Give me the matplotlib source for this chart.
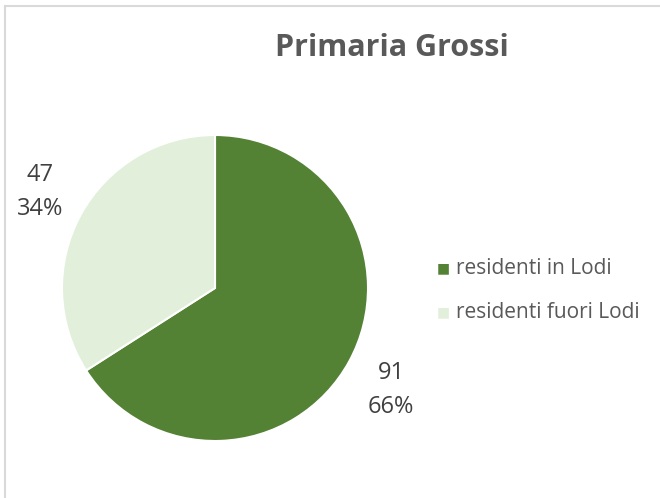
import matplotlib.pyplot as plt
from matplotlib.lines import Line2D

plt.rcParams['font.family'] = ['Open Sans', 'DejaVu Sans']

# dati alunni
categorie = ['residenti in Lodi', 'residenti fuori Lodi']
alunni = [91, 47]
colori = ['#548235', '#E2EFDA']

W, H = 660, 498
fig = plt.figure(figsize=(W / 100, H / 100), dpi=100)

# cornice grafico
fig.add_artist(Line2D([5 / W, 5 / W], [0, 1 - 6 / H], color='#D9D9D9', lw=1.5))
fig.add_artist(Line2D([5 / W, 1], [1 - 6 / H, 1 - 6 / H], color='#D9D9D9', lw=1.5))

# torta: centro (215, 288), raggio 153 px
cx, cy, r = 215, 288, 153
ax = fig.add_axes([(cx - r) / W, (H - cy - r) / H, 2 * r / W, 2 * r / H])
wedges, _ = ax.pie(alunni, colors=colori, startangle=90, counterclock=False,
                   radius=1, wedgeprops=dict(edgecolor='white', linewidth=1.5))
ax.set_xlim(-1, 1)
ax.set_ylim(-1, 1)
ax.set_aspect('equal')
ax.axis('off')

totale = sum(alunni)
posizioni = [(391, 390), (40, 192)]
for v, (px, py) in zip(alunni, posizioni):
    fig.text(px / W, 1 - py / H, f'{v}\n{round(v / totale * 100)}%',
             ha='center', va='center', fontsize=17, color='#404040',
             linespacing=1.55)

fig.text(392 / W, 1 - 48 / H, 'Primaria Grossi', ha='center', va='center',
         fontsize=22, fontweight='bold', color='#595959')

# legenda
for i, (cat, col) in enumerate(zip(categorie, colori)):
    y = 1 - (268 + i * 44) / H
    fig.text(443 / W, y, '\u25A0', ha='center', va='center', fontsize=10,
             color=col, family='DejaVu Sans')
    fig.text(456 / W, y, cat, ha='left', va='center', fontsize=15,
             color='#595959')

fig.savefig('out.png', dpi=100)
